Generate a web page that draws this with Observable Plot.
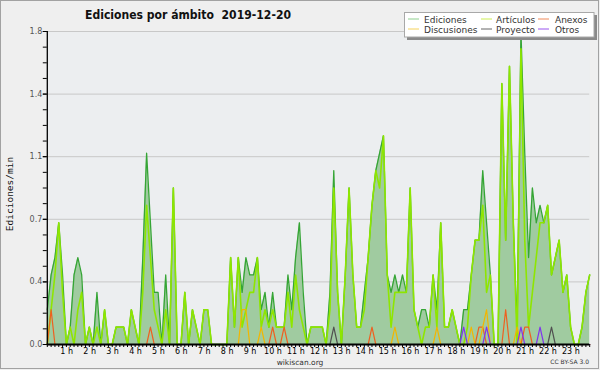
<!DOCTYPE html>
<html>
<head>
<meta charset="utf-8">
<script src="https://cdn.jsdelivr.net/npm/d3@7"></script>
<script src="https://cdn.jsdelivr.net/npm/@observablehq/plot@0.6"></script>
<style>
  html, body { margin: 0; padding: 0; background: #ffffff; }
  #chart { width: 600px; height: 370px; }
  #chart svg { display: block; }
</style>
</head>
<body>
<div id="chart"></div>
<script>
// ---------- DATA (10-minute bins, edits per minute) ----------
const ediciones = [
  0.2,0.4,0.5,0.7,0.4,0,0.1,0.4,0.5,0.4,
  0,0.1,0,0.3,0,0.2,0,0,0.1,0.1,
  0.1,0,0.2,0.1,0,0.5,1.1,0.7,0.3,0.3,
  0,0.4,0,0.9,0,0,0.3,0,0.2,0.1,
  0,0.2,0.2,0,0,0,0,0,0.5,0.1,
  0.5,0.3,0.5,0.4,0.4,0.5,0.2,0.3,0.1,0.3,
  0.1,0.1,0.1,0.4,0.2,0.5,0.7,0.3,0,0.1,
  0.1,0.1,0.1,0,0.3,1.0,0.3,0,0.4,0.9,
  0.4,0.1,0.1,0.3,0.5,0.8,1.0,1.1,1.2,0.4,
  0.3,0.4,0.3,0.4,0.3,0.9,0.2,0.1,0.2,0.2,
  0.1,0.4,0.2,0.7,0.1,0.1,0.2,0.1,0,0.2,
  0.2,0.4,0.6,0.6,1.0,0.7,0.4,0,0,1.5,
  0.6,1.6,0.7,0.1,1.8,1.1,0.5,0.9,0.7,0.8,
  0.7,0.8,0.4,0.5,0.6,0.3,0.4,0.1,0,0,
  0.1,0.3,0.4
];
const articulos = [
  0,0.2,0.4,0.7,0.3,0,0.1,0,0.2,0.3,
  0,0.1,0,0.1,0,0.2,0,0,0.1,0.1,
  0.1,0,0.2,0.1,0,0.3,0.8,0.5,0.2,0.1,
  0,0.2,0,0.9,0,0,0.3,0,0.2,0.1,
  0,0.2,0.2,0,0,0,0,0,0.5,0.1,
  0.5,0.1,0.2,0.3,0.3,0.5,0.1,0.2,0.1,0.2,
  0.1,0.1,0.1,0.3,0.1,0.4,0.2,0.1,0,0.1,
  0.1,0.1,0.1,0,0.2,0.9,0.3,0,0.4,0.9,
  0.4,0.1,0.1,0.2,0.5,0.8,1.0,0.9,1.2,0.4,
  0.1,0.3,0.3,0.3,0.3,0.9,0.2,0.1,0,0.1,
  0.1,0.4,0.1,0.7,0.1,0.1,0.2,0.1,0,0,
  0.1,0.4,0.6,0.6,0.8,0.3,0.4,0,0,1.5,
  0.6,1.6,0.7,0,1.7,0.6,0.1,0.3,0.5,0.7,
  0.7,0.8,0.4,0.5,0.6,0.3,0.4,0.1,0,0,
  0.1,0.3,0.4
];
const anexos = [
  0,0.2,0,0,0,0,0,0,0,0,
  0,0,0,0,0,0,0,0,0,0,
  0,0,0,0,0,0,0,0.1,0,0,
  0,0,0,0,0,0,0,0,0,0,
  0,0,0,0,0,0,0,0,0,0,
  0,0,0,0,0,0,0,0,0,0.1,
  0,0,0.1,0,0,0,0,0,0,0,
  0,0,0,0,0,0,0,0,0,0,
  0,0,0,0,0,0.1,0,0,0,0,
  0,0,0,0,0,0,0,0,0,0,
  0,0,0,0,0,0,0,0,0,0,
  0,0,0,0.1,0.1,0,0,0,0,0,
  0.2,0,0,0,0,0.1,0.1,0,0,0,
  0,0,0,0,0,0,0,0,0,0,
  0,0,0
];
const discusiones = [
  0,0,0,0,0,0,0,0,0,0,
  0,0,0,0,0,0,0,0,0,0,
  0,0,0,0,0,0,0,0,0,0,
  0,0,0,0,0,0,0,0,0,0,
  0,0,0,0,0,0,0,0,0,0,
  0,0.2,0.2,0,0,0,0.1,0,0,0,
  0,0,0,0,0,0,0,0,0,0,
  0,0,0,0,0,0,0,0,0,0,
  0,0,0,0,0,0,0,0,0,0,
  0,0.1,0,0,0,0,0,0,0,0,
  0,0,0.1,0,0,0,0,0,0,0,
  0,0.1,0,0,0.1,0.2,0,0,0,0,
  0,0,0,0.1,0,0,0,0,0,0,
  0,0,0,0,0,0,0,0,0,0,
  0,0,0
];
const proyecto = [
  0,0,0,0,0,0,0,0,0,0,
  0,0,0,0,0,0,0,0,0,0,
  0,0,0,0,0,0,0,0,0,0,
  0,0,0,0,0,0,0,0,0,0,
  0,0,0,0,0,0,0,0,0,0,
  0,0,0,0,0,0,0,0,0,0,
  0,0,0,0,0,0,0,0,0,0,
  0,0,0,0,0,0.1,0,0,0,0,
  0,0,0,0,0,0,0,0,0,0,
  0,0,0,0,0,0,0,0,0,0,
  0,0,0,0,0,0,0,0,0,0,
  0,0,0,0,0,0,0,0,0,0,
  0,0,0,0,0,0,0,0,0,0,
  0,0,0.1,0,0,0,0,0,0,0,
  0,0,0
];
const otros = [
  0,0,0,0,0,0,0,0,0,0,
  0,0,0,0,0,0,0,0,0,0,
  0,0,0,0,0,0,0,0,0,0,
  0,0,0,0,0,0,0,0,0,0,
  0,0,0,0,0,0,0,0,0,0,
  0,0,0,0,0,0,0,0,0,0,
  0,0,0,0,0,0,0,0,0,0,
  0,0,0,0,0,0,0,0,0,0,
  0,0,0,0,0,0,0,0,0,0,
  0,0,0,0,0,0,0,0,0,0,
  0,0,0,0,0,0,0,0,0,0.1,
  0,0,0,0,0,0.1,0,0,0,0,
  0,0,0,0,0.1,0,0,0,0,0.1,
  0,0,0,0,0,0,0,0,0,0,
  0,0,0
];
const seriesNames  = ["Ediciones", "Artículos", "Anexos", "Discusiones", "Proyecto", "Otros"];
const seriesColors = ["#35a535", "#8ee600", "#ee6020", "#f2b600", "#505050", "#8035ee"];
const legendColors = ["#8fd08f", "#cdee55", "#f08a5a", "#f5d25a", "#666666", "#9955ee"];
const hourLabels = ["1 h","2 h","3 h","4 h","5 h","6 h","7 h","8 h","9 h","10 h","11 h","12 h",
                    "13 h","14 h","15 h","16 h","17 h","18 h","19 h","20 h","21 h","22 h","23 h"];
const yTickLabels = ["0.0", "0.4", "0.7", "1.1", "1.4", "1.8"];
const yMax = 1.8;
const titleText = "Ediciones por ámbito  2019-12-20";
const yLabelText = "Ediciones/min";
const siteText = "wikiscan.org";
const licenseText = "CC BY-SA 3.0";

// ---------- table built from the arrays ----------
const idx = d3.range(ediciones.length);              // one point per 10 minutes
const rows = idx.map(i => ({
  i, e: ediciones[i], a: articulos[i], an: anexos[i],
  d: discusiones[i], p: proyecto[i], o: otros[i]
}));
const yMajor = yTickLabels.map((_, k) => k * yMax / (yTickLabels.length - 1));
const yMinor = d3.range(0, 21).map(k => k * yMax / 20);
const hourTicks = hourLabels.map((_, k) => (k + 1) * 6);

const chart = Plot.plot({
  width: 600,
  height: 370,
  marginLeft: 46.8,
  marginRight: 10.8,
  marginTop: 31,
  marginBottom: 26,
  style: { background: "#efefef", fontFamily: "DejaVu Sans, sans-serif", color: "#000", overflow: "visible" },
  x: { domain: [0, idx.length - 1] },
  y: { domain: [0, yMax] },
  marks: [
    Plot.frame({ fill: "#eceef0", stroke: null }),
    Plot.ruleY(yMajor.slice(1), { stroke: "#c8c8c8", strokeWidth: 1 }),
    Plot.areaY(rows, { x: "i", y: "e", fill: "#a0cba0" }),
    Plot.lineY(rows, { x: "i", y: "e", stroke: seriesColors[0], strokeWidth: 1.3 }),
    Plot.lineY(rows, { x: "i", y: "a", stroke: seriesColors[1], strokeWidth: 1.6 }),
    Plot.lineY(rows, { x: "i", y: "an", stroke: seriesColors[2], strokeWidth: 1.2 }),
    Plot.lineY(rows, { x: "i", y: "d", stroke: seriesColors[3], strokeWidth: 1.2 }),
    Plot.lineY(rows, { x: "i", y: "p", stroke: seriesColors[4], strokeWidth: 1.2 }),
    Plot.lineY(rows, { x: "i", y: "o", stroke: seriesColors[5], strokeWidth: 1.2 }),
    Plot.ruleX([0], { stroke: "#000", strokeWidth: 1.3 }),
    Plot.ruleY([0], { stroke: "#000", strokeWidth: 1.8 }),
    Plot.axisX({ ticks: idx, tickSize: 3, tickFormat: () => "", label: null, stroke: "#000" }),
    Plot.axisX({ ticks: hourTicks, tickSize: 0, tickPadding: 4, label: null, fontSize: 8, dx: -3.5,
                 tickFormat: d => hourLabels[Math.round(d / 6) - 1] }),
    Plot.axisY({ ticks: yMinor, tickSize: 4, tickFormat: () => "", label: null, stroke: "#000" }),
    Plot.axisY({ ticks: yMajor, tickSize: 4, tickPadding: 1, label: null, fontSize: 8, fill: "#555",
                 tickFormat: d => yTickLabels[Math.round(d / (yMax / 5))] })
  ]
});
document.getElementById("chart").appendChild(chart);

// ---------- titles, legend and captions ----------
const svg = d3.select(chart);
svg.append("rect").attr("x", 0.5).attr("y", 0.5).attr("width", 598).attr("height", 368)
  .attr("fill", "none").attr("stroke", "#a2a2a2");

svg.append("text").attr("x", 188).attr("y", 18.5).attr("text-anchor", "middle")
  .attr("font-family", "DejaVu Sans, sans-serif").attr("font-weight", "bold").attr("font-size", 12.5)
  .attr("textLength", 206).attr("lengthAdjust", "spacingAndGlyphs").attr("fill", "#111")
  .text(titleText);

svg.append("text").attr("transform", "translate(13,194) rotate(-90)").attr("text-anchor", "middle")
  .attr("font-family", "DejaVu Sans Mono, monospace").attr("font-size", 9.5).attr("fill", "#111")
  .text(yLabelText);

svg.append("text").attr("x", 300).attr("y", 364.5).attr("text-anchor", "middle")
  .attr("font-family", "DejaVu Sans, sans-serif").attr("font-size", 7.5).attr("fill", "#333")
  .text(siteText);

svg.append("text").attr("x", 589).attr("y", 364).attr("text-anchor", "end")
  .attr("font-family", "DejaVu Sans, sans-serif").attr("font-size", 6).attr("fill", "#333")
  .text(licenseText);

// legend box
const lg = svg.append("g").attr("text-anchor", "start");
lg.append("rect").attr("x", 407).attr("y", 15).attr("width", 190).attr("height", 25).attr("fill", "#8a8a8a");
lg.append("rect").attr("x", 404.5).attr("y", 12.5).attr("width", 189.5).attr("height", 24.5)
  .attr("fill", "#ffffff").attr("stroke", "#a8a8a8");
const colSample = [408, 481, 538];
const colText = [424, 496, 555];
const rowY = [19, 29];
seriesNames.forEach((name, k) => {
  const c = k % 3, r = Math.floor(k / 3);
  lg.append("line").attr("x1", colSample[c]).attr("x2", colSample[c] + 11)
    .attr("y1", rowY[r]).attr("y2", rowY[r]).attr("stroke", legendColors[k]).attr("stroke-width", 1);
  lg.append("text").attr("x", colText[c]).attr("y", rowY[r] + 4).attr("text-anchor", "start")
    .attr("font-family", "DejaVu Sans, sans-serif").attr("font-size", 9).attr("fill", "#333")
    .text(name);
});
</script>
</body>
</html>
